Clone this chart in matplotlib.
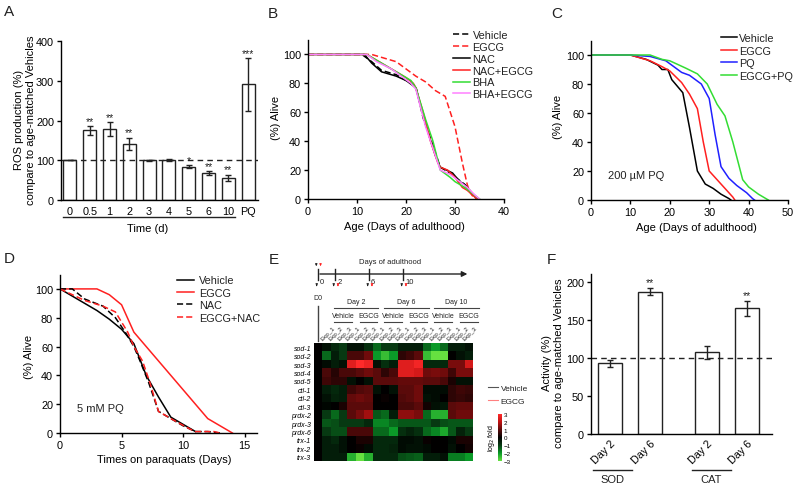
import numpy as np
import matplotlib.pyplot as plt
import matplotlib.transforms as mtransforms
from matplotlib.colors import LinearSegmentedColormap
from matplotlib.lines import Line2D

plt.rcParams['font.family'] = ['Liberation Sans', 'DejaVu Sans']
plt.rcParams['font.size'] = 8
plt.rcParams['axes.linewidth'] = 1.0
plt.rcParams['xtick.major.width'] = 1.0
plt.rcParams['ytick.major.width'] = 1.0
plt.rcParams['xtick.major.size'] = 3
plt.rcParams['ytick.major.size'] = 3
plt.rcParams['xtick.major.pad'] = 2
plt.rcParams['ytick.major.pad'] = 2
plt.rcParams['axes.labelsize'] = 8
plt.rcParams['xtick.labelsize'] = 7.8
plt.rcParams['ytick.labelsize'] = 7.8
plt.rcParams['text.color'] = '#222222'

RED = '#ff2020'
GREEN = '#33dd33'
PINK = '#ff80ff'
BLUE = '#2020ff'

# ---- A: ROS production ----
a_labels = ['0', '0.5', '1', '2', '3', '4', '5', '6', '10', 'PQ']
a_vals = [100, 175, 179, 142, 100, 100, 84, 67, 55, 291]
a_err = [0, 11, 17, 15, 1, 3, 4, 5, 8, 66]
a_stars = ['', '**', '**', '**', '', '', '*', '**', '**', '***']

# ---- B: lifespan, antioxidants ----
b_vehicle_x = [0, 11, 13, 15, 18, 20, 22, 23.5, 25, 27, 29, 30.5, 32, 33.5, 34.5]
b_vehicle_y = [100, 100, 95, 89, 86, 82, 78, 56, 42, 22, 18, 14, 10, 4, 0]
b_egcg_x = [0, 12, 13, 15, 18, 20, 22, 24, 26, 28, 30, 31.5, 32.5, 33, 34]
b_egcg_y = [100, 100, 100, 98, 95, 90, 85, 81, 75, 71, 50, 25, 10, 5, 0]
b_nac_x = [0, 11.5, 13, 15, 18, 20, 22, 23.5, 24.5, 26, 27, 29.5, 31, 32, 34, 34.5]
b_nac_y = [100, 100, 94, 88, 85, 82, 77, 58, 46, 30, 22, 18, 12, 10, 2, 0]
b_nacegcg_x = [0, 12, 14, 16, 18, 20, 21.5, 22, 23.5, 25, 26.5, 27, 28.5, 30, 31.5, 32.5, 34.5]
b_nacegcg_y = [100, 100, 96, 92, 88, 84, 80, 77, 60, 40, 25, 22, 20, 15, 8, 6, 0]
b_bha_x = [0, 12, 14, 17, 19, 21, 22, 24, 25.5, 27, 29, 30, 32, 33.5, 35]
b_bha_y = [100, 100, 96, 90, 86, 82, 77, 55, 40, 20, 15, 12, 8, 4, 0]
b_bhaegcg_x = [0, 12, 14, 17, 19, 21, 22, 24, 26, 27, 29, 31, 32.5, 34, 35]
b_bhaegcg_y = [100, 100, 95, 90, 85, 80, 76, 50, 30, 20, 17, 12, 8, 3, 0]

# ---- C: lifespan under 200 uM PQ ----
c_vehicle_x = [0, 10, 14, 17, 18, 19.5, 20.5, 23.3, 25, 27, 29, 31, 33, 35, 35.5]
c_vehicle_y = [100, 100, 97, 93, 90, 90, 83, 74, 50, 20, 11, 8, 4, 1, 0]
c_egcg_x = [0, 10, 15, 18, 20, 23, 25, 27, 28.5, 30, 32, 34, 36, 36.5]
c_egcg_y = [100, 100, 96, 92, 89, 81, 73, 63, 40, 20, 14, 8, 2, 0]
c_pq_x = [0, 10, 15, 19, 21, 23, 25, 28, 30, 31.5, 33, 35, 37, 39.5, 41, 41.5]
c_pq_y = [100, 100, 99, 96, 92, 88, 86, 80, 70, 45, 23, 15, 10, 5, 1, 0]
c_egcgpq_x = [0, 15, 18, 20, 24, 27, 29.5, 32, 34, 36, 38.5, 40, 42.5, 45]
c_egcgpq_y = [100, 100, 97, 96, 91, 87, 80, 66, 58, 40, 14, 9, 4, 0]

# ---- D: survival on 5 mM PQ ----
d_vehicle_x = [0, 1, 2, 3, 4, 5, 6, 7, 8, 9, 10, 11]
d_vehicle_y = [100, 95, 90, 85, 79, 72, 62, 40, 25, 11, 6, 1]
d_egcg_x = [0, 3, 4, 5, 6, 7, 8, 9, 10, 11, 12, 13, 14]
d_egcg_y = [100, 100, 96, 89, 70, 60, 50, 40, 30, 20, 10, 5, 0]
d_nac_x = [0, 1, 2, 3.5, 4.5, 5.3, 6, 6.5, 7.2, 8, 9, 10, 11, 12, 13]
d_nac_y = [100, 100, 93, 88, 80, 70, 60, 50, 35, 15, 10, 5, 1, 1, 0]
d_egcgnac_x = [0, 1, 2, 3.5, 4.5, 5.5, 6, 6.7, 7.3, 8, 9, 10.5, 11, 12.5, 13]
d_egcgnac_y = [100, 96, 92, 88, 84, 70, 60, 50, 35, 15, 10, 3, 1, 1, 0]

# ---- E: heatmap (log2 fold) ----
e_genes = ['sod-1', 'sod-2', 'sod-3', 'sod-4', 'sod-5', 'ctl-1', 'ctl-2', 'ctl-3',
           'prdx-2', 'prdx-3', 'prdx-6', 'trx-1', 'trx-2', 'trx-3']
e_days = ['Day 2', 'Day 6', 'Day 10']
e_treat = ['Vehicle', 'EGCG']
e_reps = ['Exp_1', 'Exp_2', 'Exp_3']
e_timeline = [0, 2, 6, 10]
e_values = [
    [0, -0.3, -0.7, -1.0, -0.3, -0.3, -0.8, -1.5, -1.0, -1.0, -0.5, -0.5, -0.5, -1.5, -2.0, -1.5, -0.5, -0.5, -0.3],
    [0, -1.5, -0.5, -1.0, 0.8, 0.8, 1.2, -2.0, -2.5, -2.0, 0.5, 0.7, 1.0, -2.5, -3.0, -3.0, 0.0, -0.3, -0.5],
    [0, -0.2, -0.5, -0.3, 2.5, 3.0, 2.7, -0.3, -0.8, -0.5, 2.5, 2.5, 2.8, -0.7, -0.7, -0.7, 1.3, 1.3, 2.3],
    [0, 0.8, 0.4, 0.8, 0.8, 1.0, 1.2, 1.0, 0.5, 0.8, 2.5, 2.5, 2.3, 1.2, 1.3, 1.2, 0.7, 1.3, 1.3],
    [0, 0.7, 0.5, 0.5, -0.3, 0.0, -0.3, 1.0, 1.0, 1.0, 1.1, 1.1, 1.1, 1.0, 1.0, 0.8, 0.3, -0.3, -0.3],
    [0, -0.5, -0.7, -0.5, 0.7, 0.9, 1.0, -0.3, 0.0, -0.3, 1.0, 1.0, 1.2, -0.2, -0.2, -0.2, 0.5, 0.7, 0.6],
    [0, -0.3, -0.6, -0.5, 1.1, 1.2, 1.1, 0.0, 0.1, 0.0, 0.9, 1.0, 1.2, -0.3, -0.2, 0.0, 0.5, 0.6, 0.5],
    [0, -0.1, 0.0, 0.3, 1.0, 1.0, 1.0, 0.0, 0.0, 0.0, 0.8, 0.8, 1.0, 0.2, -0.3, -0.4, 1.0, 1.1, 1.1],
    [0, -1.0, -1.5, -1.0, 1.0, 1.3, 1.7, -1.3, -1.5, -0.5, 1.5, 1.5, 1.3, -1.5, -2.3, -2.3, 1.0, 1.2, 1.2],
    [0, -1.3, -1.2, -1.0, -1.0, -1.0, -0.7, -1.8, -1.8, -1.5, -1.3, -1.3, -1.3, -1.3, -1.0, -1.2, -1.3, -1.3, -1.3],
    [0, -1.0, -1.2, -1.2, 0.8, 0.8, 0.8, -1.5, -1.5, -2.0, -0.8, -0.6, -0.8, -1.5, -1.8, -2.2, -1.3, -0.6, -1.0],
    [0, -0.5, -0.7, -0.3, 0.0, 0.3, 0.3, -0.7, -0.7, -0.7, -0.2, -0.2, -0.3, 0.1, 0.0, 0.0, -0.2, 0.3, 0.3],
    [0, -0.5, -0.5, -0.3, 0.0, 0.1, -0.2, -0.7, -0.7, -0.6, -0.2, -0.3, -0.3, -0.2, 0.0, 0.0, -0.3, 0.0, 0.2],
    [0, -0.5, -0.5, -0.5, -2.3, -3.0, -2.3, -0.7, -0.7, -0.7, -1.2, -1.3, -1.4, -0.5, -0.5, -0.3, -1.7, -1.7, -2.0],
]

# ---- F: enzyme activity ----
f_labels = ['Day 2', 'Day 6', 'Day 2', 'Day 6']
f_pos = [0, 1, 2.45, 3.45]
f_vals = [93, 187, 107, 165]
f_err = [4.5, 5, 9, 9.5]
f_stars = ['', '**', '', '**']
f_groups = ['SOD', 'CAT']

W, H = 796, 489
fig = plt.figure(figsize=(W / 100, H / 100), dpi=100)


def box(x0, y0, x1, y1):
    # pixel box (from top-left) -> figure fraction
    return [x0 / W, 1 - y1 / H, (x1 - x0) / W, (y1 - y0) / H]


def clean(ax):
    ax.spines['top'].set_visible(False)
    ax.spines['right'].set_visible(False)


def legend_at(ax, handles, x, y, fontsize=7.8, **kw):
    return ax.legend(handles=handles, loc='upper left', bbox_to_anchor=(x / W, 1 - y / H),
                     bbox_transform=fig.transFigure, frameon=False, borderpad=0,
                     borderaxespad=0, fontsize=fontsize, **kw)


for lab, (lx, ly) in zip('ABCDEF', [(4, 12), (268, 14), (551, 14), (4, 259), (269, 260), (547, 260)]):
    fig.text(lx / W, 1 - ly / H, lab, fontsize=11, va='center', ha='left')

# ================= A =================
axA = fig.add_axes(box(61, 42, 258, 201))
clean(axA)
xa = np.arange(len(a_labels))
axA.bar(xa, a_vals, width=0.66, color='white', edgecolor='#222222', linewidth=1.0,
        yerr=a_err, capsize=2.5, error_kw=dict(elinewidth=1, capthick=1, ecolor='#222222'))
axA.axhline(100, color='#222222', ls=(0, (4, 3)), lw=1)
for x, v, e, s in zip(xa, a_vals, a_err, a_stars):
    if s:
        axA.text(x, v + e + 1, s, ha='center', va='bottom', fontsize=7.5)
axA.set_xlim(-0.45, 9.5)
axA.set_ylim(0, 400)
axA.set_yticks([0, 100, 200, 300, 400])
axA.set_xticks(xa)
axA.set_xticklabels(a_labels)
axA.tick_params(axis='x', length=0, pad=4)
axA.set_ylabel('ROS production (%)\ncompare to age-matched Vehicles', fontsize=8)
axA.yaxis.set_label_coords(-0.127, 0.51)
trA = mtransforms.blended_transform_factory(axA.transData, axA.transAxes)
axA.plot([-0.33, 8.33], [-0.109, -0.109], color='#222222', lw=1, transform=trA, clip_on=False)
axA.set_xlabel('Time (d)')
axA.xaxis.set_label_coords(0.44, -0.145)

# ================= B =================
axB = fig.add_axes(box(308, 41, 504, 200))
clean(axB)
axB.plot(b_vehicle_x, b_vehicle_y, color='black', ls=(0, (4, 2)), lw=1.1, label='Vehicle')
axB.plot(b_egcg_x, b_egcg_y, color=RED, ls=(0, (4, 2)), lw=1.1, label='EGCG')
axB.plot(b_nac_x, b_nac_y, color='black', lw=1.1, label='NAC')
axB.plot(b_nacegcg_x, b_nacegcg_y, color=RED, lw=1.1, label='NAC+EGCG')
axB.plot(b_bha_x, b_bha_y, color=GREEN, lw=1.1, label='BHA')
axB.plot(b_bhaegcg_x, b_bhaegcg_y, color=PINK, lw=1.1, label='BHA+EGCG')
axB.set_xlim(0, 40)
axB.set_ylim(0, 110)
axB.set_xticks([0, 10, 20, 30, 40])
axB.set_yticks([0, 20, 40, 60, 80, 100])
axB.set_xlabel('Age (Days of adulthood)')
axB.xaxis.set_label_coords(0.49, -0.14)
axB.set_ylabel('(%) Alive')
axB.yaxis.set_label_coords(-0.138, 0.516)
hB, lB = axB.get_legend_handles_labels()
legend_at(axB, hB, 453, 31, handlelength=1.55, handletextpad=0.25, labelspacing=0.17)

# ================= C =================
axC = fig.add_axes(box(591, 41.5, 788, 201))
clean(axC)
axC.plot(c_vehicle_x, c_vehicle_y, color='black', lw=1.1, label='Vehicle')
axC.plot(c_egcg_x, c_egcg_y, color=RED, lw=1.1, label='EGCG')
axC.plot(c_pq_x, c_pq_y, color=BLUE, lw=1.1, label='PQ')
axC.plot(c_egcgpq_x, c_egcgpq_y, color=GREEN, lw=1.1, label='EGCG+PQ')
axC.set_xlim(0, 50)
axC.set_ylim(0, 110)
axC.set_xticks([0, 10, 20, 30, 40, 50])
axC.set_yticks([0, 20, 40, 60, 80, 100])
axC.set_xlabel('Age (Days of adulthood)')
axC.xaxis.set_label_coords(0.537, -0.138)
axC.set_ylabel('(%) Alive')
axC.yaxis.set_label_coords(-0.142, 0.53)
axC.text(0.085, 0.14, '200 µM PQ', transform=axC.transAxes, fontsize=8)
hC, lC = axC.get_legend_handles_labels()
legend_at(axC, hC, 721, 34, handlelength=1.45, handletextpad=0.25, labelspacing=0.24)

# ================= D =================
axD = fig.add_axes(box(60, 275.5, 257, 434))
clean(axD)
axD.plot(d_vehicle_x, d_vehicle_y, color='black', lw=1.1, label='Vehicle')
axD.plot(d_egcg_x, d_egcg_y, color=RED, lw=1.1, label='EGCG')
axD.plot(d_nac_x, d_nac_y, color='black', ls=(0, (4, 2)), lw=1.1, label='NAC')
axD.plot(d_egcgnac_x, d_egcgnac_y, color=RED, ls=(0, (4, 2)), lw=1.1, label='EGCG+NAC')
axD.set_xlim(0, 16)
axD.set_ylim(0, 110)
axD.set_xticks([0, 5, 10, 15])
axD.set_yticks([0, 20, 40, 60, 80, 100])
axD.set_xlabel('Times on paraquats (Days)')
axD.xaxis.set_label_coords(0.53, -0.132)
axD.set_ylabel('(%) Alive')
axD.yaxis.set_label_coords(-0.132, 0.486)
axD.text(0.085, 0.14, '5 mM PQ', transform=axD.transAxes, fontsize=8)
hD, lD = axD.get_legend_handles_labels()
legend_at(axD, hD, 177, 276.5, handlelength=1.6, handletextpad=0.4, labelspacing=0.22)

# ================= E =================
cmap = LinearSegmentedColormap.from_list(
    'gkr', [(0, '#66e040'), (1 / 6, '#0a9a28'), (1 / 3, '#073a12'), (0.5, '#000000'),
            (2 / 3, '#5a0a0a'), (5 / 6, '#c01212'), (1, '#ff2a2a')])
axE = fig.add_axes(box(314, 344, 487, 462))
im = axE.imshow(np.array(e_values), cmap=cmap, vmin=-3, vmax=3, aspect='auto',
                interpolation='nearest')
for sp in axE.spines.values():
    sp.set_visible(False)
axE.set_yticks(range(len(e_genes)))
axE.set_yticklabels(e_genes, fontsize=5, style='italic')
axE.set_xticks([])
axE.tick_params(axis='y', length=0, pad=2)
trE = mtransforms.blended_transform_factory(axE.transData, axE.transAxes)
ncol = 1 + len(e_days) * len(e_treat) * len(e_reps)
for c in range(1, ncol):
    axE.text(c - 0.35, 1.02, e_reps[(c - 1) % 3], transform=trE, rotation=45,
             ha='left', va='bottom', fontsize=4.5, rotation_mode='anchor')
for g, day in enumerate(e_days):
    s = 1 + 6 * g
    axE.text(s + 3.5, 1.32, day, transform=trE, ha='center', va='bottom', fontsize=5)
    axE.plot([s + 0.9, s + 6.2], [1.3, 1.3], color='#444444', lw=0.8, transform=trE, clip_on=False)
    for t, tr in enumerate(e_treat):
        a0 = s + 0.9 + 3.05 * t
        axE.text(a0 + 1.05, 1.2, tr, transform=trE, ha='center', va='bottom', fontsize=5)
        axE.plot([a0, a0 + 2.1], [1.18, 1.18], color='#444444', lw=0.8, transform=trE, clip_on=False)
axE.text(0, 1.36, 'D0', transform=trE, ha='center', va='bottom', fontsize=5)
axE.plot([0, 0], [1.02, 1.31], color='#444444', lw=1, transform=trE, clip_on=False)
legend_at(axE, [Line2D([], [], color='#555555', lw=0.8), Line2D([], [], color='#ff8080', lw=0.8)],
          488, 385, fontsize=6, labels=e_treat, handlelength=1.2, handletextpad=0.3, labelspacing=0.6)

cax = fig.add_axes(box(498, 415, 502, 462))
cb = fig.colorbar(im, cax=cax, ticks=[-3, -2, -1, 0, 1, 2, 3])
cb.outline.set_visible(False)
cb.ax.tick_params(labelsize=4.5, length=0, pad=1)
cax.yaxis.set_label_position('left')
cb.set_label('log$_2$ fold', fontsize=5, labelpad=1)

# timeline
axT = fig.add_axes(box(310, 255, 480, 295))
axT.set_xlim(-0.94, 19.06)
axT.set_ylim(295, 255)
axT.axis('off')
axT.annotate('', xy=(17.9, 275), xytext=(-0.1, 275),
             arrowprops=dict(arrowstyle='-|>', color='#222222', lw=1, mutation_scale=8))
axT.text(8.5, 262, 'Days of adulthood', ha='center', va='center', fontsize=5.5)
for d in e_timeline:
    axT.plot([d, d], [269.5, 281], color='#222222', lw=1)
    axT.text(d + 0.25, 282, str(d), ha='left', va='center', fontsize=5.5)
    axT.annotate('', xy=(d - 0.15, 290), xytext=(d - 0.15, 283.5),
                 arrowprops=dict(arrowstyle='-|>', color='#222222', lw=0.6, mutation_scale=3))
    if d > 0:
        axT.annotate('', xy=(d + 0.35, 290), xytext=(d + 0.35, 283.5),
                     arrowprops=dict(arrowstyle='-|>', color=RED, lw=0.6, mutation_scale=3))
axT.annotate('', xy=(-0.2, 270), xytext=(-0.2, 262),
             arrowprops=dict(arrowstyle='-|>', color='#222222', lw=0.6, mutation_scale=3))
axT.annotate('', xy=(0.3, 270), xytext=(0.3, 262),
             arrowprops=dict(arrowstyle='-|>', color=RED, lw=0.6, mutation_scale=3))

# ================= F =================
axF = fig.add_axes(box(591, 275, 772, 435))
clean(axF)
axF.bar(f_pos, f_vals, width=0.61, color='white', edgecolor='#222222', linewidth=1.0,
        yerr=f_err, capsize=2.5, error_kw=dict(elinewidth=1, capthick=1, ecolor='#222222'))
axF.axhline(100, color='#222222', ls=(0, (4, 3)), lw=1)
for x, v, e, s in zip(f_pos, f_vals, f_err, f_stars):
    if s:
        axF.text(x, v + e + 1, s, ha='center', va='bottom', fontsize=7.5)
axF.set_xlim(-0.49, 4.09)
axF.set_ylim(0, 210)
axF.set_yticks([0, 50, 100, 150, 200])
axF.set_xticks(f_pos)
axF.set_xticklabels(f_labels, rotation=45, ha='right', rotation_mode='anchor')
axF.tick_params(axis='x', length=0, pad=3)
axF.set_ylabel('Activity (%)\ncompare to age-matched Vehicles', fontsize=8)
axF.yaxis.set_label_coords(-0.149, 0.45)
trF = mtransforms.blended_transform_factory(axF.transData, axF.transAxes)
for (x0, x1), g in zip([(-0.44, 0.56), (2.06, 3.05)], f_groups):
    axF.plot([x0, x1], [-0.225, -0.225], color='#222222', lw=1, transform=trF, clip_on=False)
    axF.text((x0 + x1) / 2, -0.25, g, transform=trF, ha='center', va='top', fontsize=8)

fig.savefig('out.png', dpi=100)
